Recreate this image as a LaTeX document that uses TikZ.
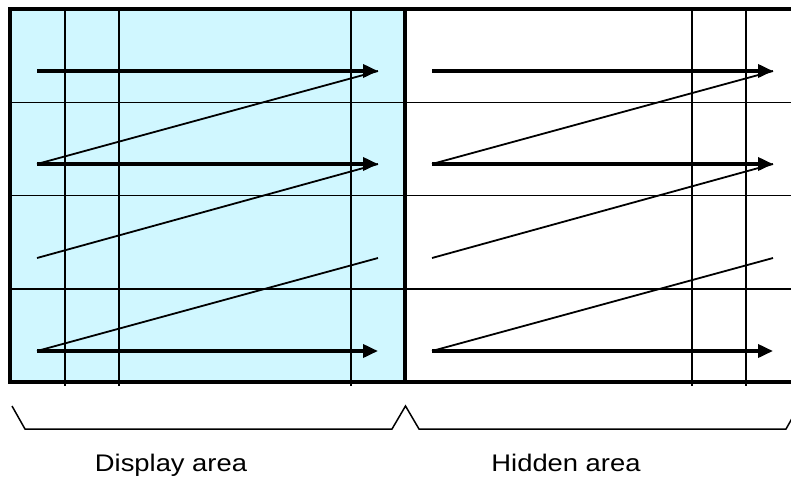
\documentclass[tikz,border=0pt]{standalone}
\usepackage{fontspec}
\setmainfont{Liberation Sans}
\usetikzlibrary{arrows.meta}
\definecolor{dispcyan}{RGB}{208,247,255}
\tikzset{
  gridline/.style={line width=1.8pt, black},
  frameline/.style={line width=4pt, black},
  scanarrow/.style={line width=3.6pt, -{Triangle[length=15pt,width=13pt]}},
  retrace/.style={line width=1.8pt},
  bracketline/.style={line width=1.5pt, line join=miter},
  label/.style={font=\fontsize{24}{28}\selectfont, inner sep=0pt, anchor=base, xscale=1.14, transform shape}
}
\begin{document}
\begin{tikzpicture}[x=1pt,y=-1pt]
\useasboundingbox (0,0) rectangle (791,477);
\clip (0,0) rectangle (791,477);
\fill[white] (0,0) rectangle (791,477);
% display area fill
\fill[dispcyan] (10,9) rectangle (405,382);
% horizontal grid
\foreach \y in {102.5,195.5,289} \draw[gridline] (10,\y) -- (800,\y);
% vertical grid
\foreach \x in {65,119,351,692,746} \draw[gridline] (\x,9) -- (\x,386);
% scan lines, both halves
\foreach \o in {0,395}{
  \coordinate (s1) at (37+\o,71);  \coordinate (e1) at (378+\o,71);
  \coordinate (s2) at (37+\o,164); \coordinate (e2) at (378+\o,164);
  \coordinate (s3) at (37+\o,258); \coordinate (e3) at (378+\o,258);
  \coordinate (s4) at (37+\o,351); \coordinate (e4) at (378+\o,351);
  \draw[retrace] (s2) -- (e1);
  \draw[retrace] (s3) -- (e2);
  \draw[retrace] (s4) -- (e3);
  \draw[scanarrow] (s1) -- (e1);
  \draw[scanarrow] (s2) -- (e2);
  \draw[scanarrow] (s4) -- (e4);
}
% frame
\draw[frameline] (10,9) rectangle (810,382);
\draw[frameline] (405,9) -- (405,382);
% bracket
\coordinate (b0) at (12,406);
\coordinate (b1) at (25,429);
\coordinate (b2) at (392,429);
\coordinate (bm) at (405.5,406);
\coordinate (b3) at (419,429);
\coordinate (b4) at (786,429);
\coordinate (b5) at (799,406);
\draw[bracketline] (b0) -- (b1) -- (b2) -- (bm) -- (b3) -- (b4) -- (b5);
% labels
\node[label] (disp) at (171,471.5) {Display area};
\node[label] (hid) at (566,471.5) {Hidden area};
\end{tikzpicture}
\end{document}
